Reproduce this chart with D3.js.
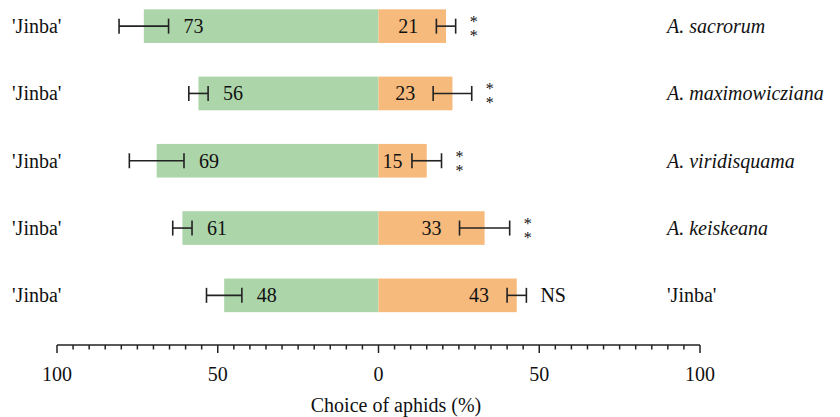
<!DOCTYPE html>
<html>
<head>
<meta charset="utf-8">
<script src="https://cdn.jsdelivr.net/npm/d3@7/dist/d3.min.js"></script>
<style>
  body { margin: 0; background: #fff; }
  text { font-family: "Liberation Serif", "Times New Roman", serif; fill: #111; }
  text.stars { writing-mode: vertical-rl; text-orientation: upright; letter-spacing: -3px; }
</style>
</head>
<body>
<div class="result"></div>
<script>
// Data
const leftLabels = ["'Jinba'", "'Jinba'", "'Jinba'", "'Jinba'", "'Jinba'"];
const rightLabels = ["A. sacrorum", "A. maximowicziana", "A. viridisquama", "A. keiskeana", "'Jinba'"];
const rightItalic = [true, true, true, true, false];
const leftValues = [73, 56, 69, 61, 48];
const leftErrors = [7.7, 3, 8.5, 3, 5.5];
const rightValues = [21, 23, 15, 33, 43];
const rightErrors = [3, 6, 4.6, 7.8, 3];
const signif = ['**', '**', '**', '**', 'NS'];
const majorTicks = [-100, -50, 0, 50, 100];
const minorTicks = d3.range(-100, 101, 5);

// Size
const w = 840;
const h = 417;

const rows = d3.range(leftValues.length);

// Scales
const xScale = d3.scaleLinear()
  .domain([-100, 100])
  .range([57, 700]);

const yScale = d3.scaleBand()
  .domain(rows)
  .range([-7.5, 329])
  .paddingInner(0.5)
  .paddingOuter(0.25);

const x0 = xScale(0);
const bh = yScale.bandwidth();

const svg = d3.select('.result')
  .append('svg')
  .attr('width', w)
  .attr('height', h);

// Bars
svg.selectAll('rect.left')
  .data(rows)
  .enter()
  .append('rect')
  .attr('class', 'left')
  .attr('x', d => xScale(-leftValues[d]))
  .attr('y', d => yScale(d))
  .attr('width', d => x0 - xScale(-leftValues[d]))
  .attr('height', bh)
  .attr('fill', '#acd5a9');

svg.selectAll('rect.right')
  .data(rows)
  .enter()
  .append('rect')
  .attr('class', 'right')
  .attr('x', x0)
  .attr('y', d => yScale(d))
  .attr('width', d => xScale(rightValues[d]) - x0)
  .attr('height', bh)
  .attr('fill', '#f6ba7d');

// Error bars
function errorBar(g, a, b, cy) {
  g.append('line').attr('x1', a).attr('x2', b).attr('y1', cy).attr('y2', cy);
  g.append('line').attr('x1', a).attr('x2', a).attr('y1', cy - 7.5).attr('y2', cy + 7.5);
  g.append('line').attr('x1', b).attr('x2', b).attr('y1', cy - 7.5).attr('y2', cy + 7.5);
}

const eb = svg.append('g')
  .attr('stroke', '#222')
  .attr('stroke-width', 1.6);

rows.forEach(i => {
  const cy = yScale(i) + bh / 2;
  errorBar(eb, xScale(-leftValues[i] - leftErrors[i]), xScale(-leftValues[i] + leftErrors[i]), cy);
  errorBar(eb, xScale(rightValues[i] - rightErrors[i]), xScale(rightValues[i] + rightErrors[i]), cy);
});

// Value labels
rows.forEach(i => {
  const cy = yScale(i) + bh / 2;
  svg.append('text')
    .attr('x', xScale(-leftValues[i] + leftErrors[i]) + 15)
    .attr('y', cy)
    .attr('dy', '0.35em')
    .attr('font-size', 20)
    .text(leftValues[i]);

  let rx = xScale(rightValues[i] - rightErrors[i]) - 18;
  let anchor = 'end';
  if (rx - 22 < x0 + 3) { rx = x0 + 4; anchor = 'start'; }
  svg.append('text')
    .attr('x', rx)
    .attr('y', cy)
    .attr('dy', '0.35em')
    .attr('text-anchor', anchor)
    .attr('font-size', 20)
    .text(rightValues[i]);

  // significance, stacked asterisks in one vertical text
  const sx = xScale(rightValues[i] + rightErrors[i]) + 14;
  if (signif[i] === '**') {
    svg.append('text')
      .attr('class', 'stars')
      .attr('x', sx + 4)
      .attr('y', cy - 13)
      .attr('font-size', 16)
      .text('**');
  } else {
    svg.append('text')
      .attr('x', sx)
      .attr('y', cy)
      .attr('dy', '0.35em')
      .attr('font-size', 20)
      .text(signif[i]);
  }

  // Row labels
  svg.append('text')
    .attr('x', 12)
    .attr('y', cy)
    .attr('dy', '0.35em')
    .attr('font-size', 20)
    .text(leftLabels[i]);

  svg.append('text')
    .attr('x', 667)
    .attr('y', cy)
    .attr('dy', '0.35em')
    .attr('font-size', 20)
    .attr('font-style', rightItalic[i] ? 'italic' : 'normal')
    .text(rightLabels[i]);
});

// X axis
const axisY = 345;
const ax = svg.append('g')
  .attr('class', 'x axis')
  .attr('stroke', '#222')
  .attr('stroke-width', 1.5);

ax.append('line')
  .attr('x1', xScale(-100))
  .attr('x2', xScale(100))
  .attr('y1', axisY)
  .attr('y2', axisY);

ax.selectAll('line.tick')
  .data(minorTicks)
  .enter()
  .append('line')
  .attr('class', 'tick')
  .attr('x1', d => xScale(d))
  .attr('x2', d => xScale(d))
  .attr('y1', axisY)
  .attr('y2', d => axisY + (majorTicks.includes(d) ? 8 : 4.5));

svg.selectAll('text.ticklabel')
  .data(majorTicks)
  .enter()
  .append('text')
  .attr('class', 'ticklabel')
  .attr('x', d => xScale(d))
  .attr('y', 381)
  .attr('text-anchor', 'middle')
  .attr('font-size', 20)
  .text(d => Math.abs(d));

svg.append('text')
  .attr('x', 396)
  .attr('y', 412)
  .attr('text-anchor', 'middle')
  .attr('font-size', 20)
  .text('Choice of aphids (%)');
</script>
</body>
</html>
